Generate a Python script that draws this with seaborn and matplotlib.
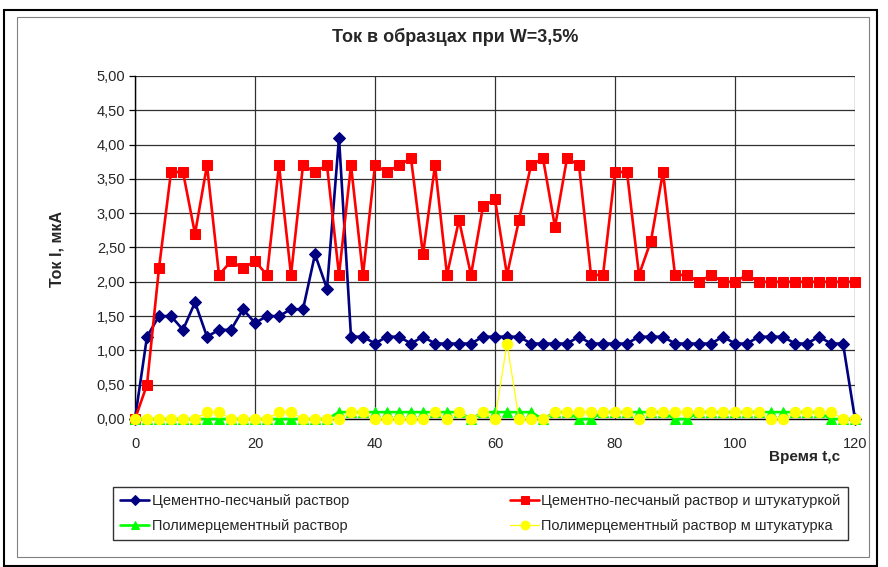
import pandas as pd
import matplotlib
matplotlib.use("Agg")
import matplotlib.pyplot as plt
import seaborn as sns
from matplotlib.patches import Rectangle
from matplotlib.ticker import FuncFormatter, MultipleLocator

# Время, с (точки через 2 с)
time_s = list(range(0, 121, 2))

# Цементно-песчаный раствор
cement_sand = [0.0, 1.2, 1.5, 1.5, 1.3, 1.7, 1.2, 1.3, 1.3, 1.6,
               1.4, 1.5, 1.5, 1.6, 1.6, 2.4, 1.9, 4.1, 1.2, 1.2,
               1.1, 1.2, 1.2, 1.1, 1.2, 1.1, 1.1, 1.1, 1.1, 1.2,
               1.2, 1.2, 1.2, 1.1, 1.1, 1.1, 1.1, 1.2, 1.1, 1.1,
               1.1, 1.1, 1.2, 1.2, 1.2, 1.1, 1.1, 1.1, 1.1, 1.2,
               1.1, 1.1, 1.2, 1.2, 1.2, 1.1, 1.1, 1.2, 1.1, 1.1,
               0.0]

# Цементно-песчаный раствор и штукатуркой
cement_sand_plaster = [0.0, 0.5, 2.2, 3.6, 3.6, 2.7, 3.7, 2.1, 2.3, 2.2,
                       2.3, 2.1, 3.7, 2.1, 3.7, 3.6, 3.7, 2.1, 3.7, 2.1,
                       3.7, 3.6, 3.7, 3.8, 2.4, 3.7, 2.1, 2.9, 2.1, 3.1,
                       3.2, 2.1, 2.9, 3.7, 3.8, 2.8, 3.8, 3.7, 2.1, 2.1,
                       3.6, 3.6, 2.1, 2.6, 3.6, 2.1, 2.1, 2.0, 2.1, 2.0,
                       2.0, 2.1, 2.0, 2.0, 2.0, 2.0, 2.0, 2.0, 2.0, 2.0,
                       2.0]

# Полимерцементный раствор
polymer = [0.0, 0.0, 0.0, 0.0, 0.0, 0.0, 0.0, 0.0, 0.0, 0.0,
           0.0, 0.0, 0.0, 0.0, 0.0, 0.0, 0.0, 0.1, 0.1, 0.1,
           0.1, 0.1, 0.1, 0.1, 0.1, 0.1, 0.1, 0.1, 0.0, 0.1,
           0.1, 0.1, 0.1, 0.1, 0.0, 0.1, 0.1, 0.0, 0.0, 0.1,
           0.1, 0.1, 0.1, 0.1, 0.1, 0.0, 0.0, 0.1, 0.1, 0.1,
           0.1, 0.1, 0.1, 0.1, 0.1, 0.1, 0.1, 0.1, 0.0, 0.0,
           0.0]

# Полимерцементный раствор м штукатурка
polymer_plaster = [0.0, 0.0, 0.0, 0.0, 0.0, 0.0, 0.1, 0.1, 0.0, 0.0,
                   0.0, 0.0, 0.1, 0.1, 0.0, 0.0, 0.0, 0.0, 0.1, 0.1,
                   0.0, 0.0, 0.0, 0.0, 0.0, 0.1, 0.0, 0.1, 0.0, 0.1,
                   0.0, 1.1, 0.0, 0.0, 0.0, 0.1, 0.1, 0.1, 0.1, 0.1,
                   0.1, 0.1, 0.0, 0.1, 0.1, 0.1, 0.1, 0.1, 0.1, 0.1,
                   0.1, 0.1, 0.1, 0.0, 0.0, 0.1, 0.1, 0.1, 0.1, 0.0,
                   0.0]

series_names = ["Цементно-песчаный раствор",
                "Цементно-песчаный раствор и штукатуркой",
                "Полимерцементный раствор",
                "Полимерцементный раствор м штукатурка"]

sns.set_theme(style="white")
plt.rcParams['font.family'] = ['Liberation Sans', 'DejaVu Sans']

W, H = 888, 567
fig = plt.figure(figsize=(W / 100, H / 100), dpi=100)
ax = fig.add_axes([135 / W, 1 - 419 / H, 720 / W, 343 / H])

styles = [
    dict(color="#000080", marker="D", markersize=6.5, linewidth=1.9),
    dict(color="#FF0000", marker="s", markersize=7, linewidth=1.9),
    dict(color="#00FF00", marker="^", markersize=7, linewidth=1.9),
    dict(color="#FFFF00", marker="o", markersize=7.5, linewidth=0.9),
]
data = [cement_sand, cement_sand_plaster, polymer, polymer_plaster]

for i, (vals, name, st) in enumerate(zip(data, series_names, styles)):
    sns.lineplot(x=time_s, y=vals, ax=ax, label=name, estimator=None,
                 errorbar=None, color=st["color"], marker=st["marker"],
                 markersize=st["markersize"], linewidth=st["linewidth"],
                 markeredgecolor=st["color"], clip_on=False, zorder=3 + i)

ax.set_xlim(0, 120)
ax.set_ylim(0, 5)
ax.xaxis.set_major_locator(MultipleLocator(20))
ax.yaxis.set_major_locator(MultipleLocator(0.5))
ax.yaxis.set_major_formatter(FuncFormatter(lambda v, p: f"{v:.2f}".replace(".", ",")))
ax.grid(True, color="#303030", linewidth=0.9)
ax.set_axisbelow(True)
for side in ["top", "right"]:
    ax.spines[side].set_visible(False)
for side in ["left", "bottom"]:
    ax.spines[side].set_color("black")
    ax.spines[side].set_linewidth(1.0)
ax.tick_params(axis="y", left=True, length=4, width=0.9, color="black",
               labelsize=10.5, pad=3)
ax.tick_params(axis="x", bottom=False, labelsize=10.5, pad=7)

ax.set_xlabel("")
ax.set_ylabel("")
fig.text(57 / W, 1 - 249 / H, "Ток I, мкА", rotation=90, ha="center",
         va="center", fontsize=11.5, fontweight="bold")
fig.text(840 / W, 1 - 457 / H, "Время t,c", ha="right", va="center",
         fontsize=11, fontweight="bold")
fig.text(455 / W, 1 - 37 / H, "Ток в образцах при W=3,5%", ha="center",
         va="center", fontsize=13, fontweight="bold")

# legend: column-major fill -> order blue, green, red, yellow
h, l = ax.get_legend_handles_labels()
ax.get_legend().remove()
order = [0, 2, 1, 3]
leg = fig.legend([h[k] for k in order], [l[k] for k in order], ncol=2,
                 loc="lower left", mode="expand",
                 bbox_to_anchor=(113 / W, 1 - 540 / H, 735 / W, 58 / H),
                 frameon=True, fancybox=False, fontsize=10.5,
                 borderaxespad=0, handlelength=2.0, handletextpad=0.15,
                 labelspacing=0.7, borderpad=0.5, markerscale=0.85)
leg.get_frame().set_edgecolor("black")
leg.get_frame().set_linewidth(1.0)

# chart frames
fig.add_artist(Rectangle((4 / W, 1 - 566 / H), 873 / W, 556 / H,
                         transform=fig.transFigure, fill=False,
                         edgecolor="black", linewidth=1.5))
fig.add_artist(Rectangle((17 / W, 1 - 557 / H), 852 / W, 540 / H,
                         transform=fig.transFigure, fill=False,
                         edgecolor="#808080", linewidth=0.8))

fig.savefig("out.png", dpi=100)
